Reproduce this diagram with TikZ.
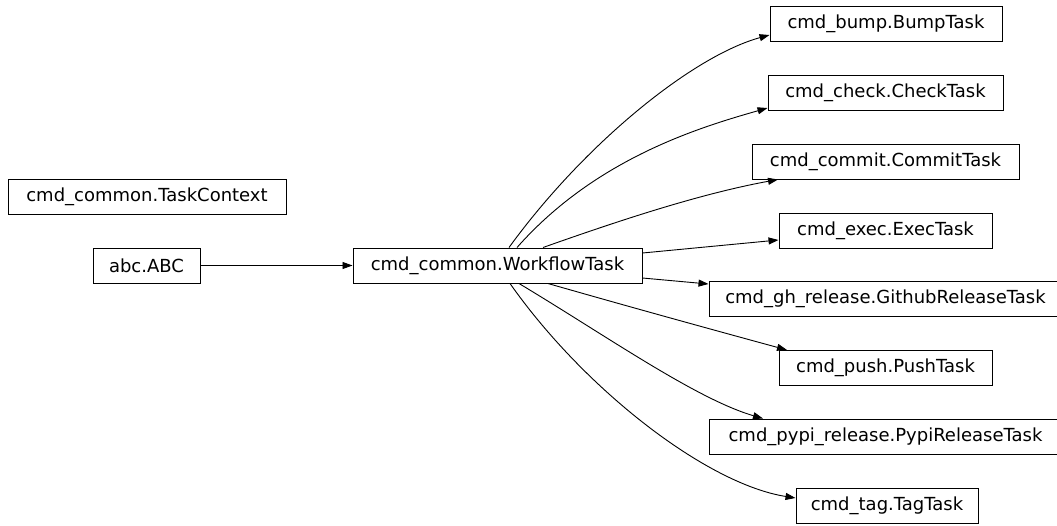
\documentclass[tikz,border=0pt]{standalone}
\usepackage{fontspec}
\setmainfont{DejaVu Sans}
\usetikzlibrary{arrows.meta}
\begin{document}
\begin{tikzpicture}[x=1pt,y=-1pt,
  box/.style={draw=black,line width=1pt,inner sep=0pt,minimum height=35pt,
    font=\fontsize{18}{21}\selectfont,text=black},
  edge/.style={draw=black,line width=0.9pt,-{Triangle[length=10pt,width=7pt]}}]
\useasboundingbox (0,0) rectangle (1057,525);
\node[box,minimum width=278pt] (ctx) at (147,196.5) {cmd\_common.TaskContext};
\node[box,minimum width=107pt] (abc) at (146.5,265.5) {abc.ABC};
\node[box,minimum width=289pt] (wf) at (497.5,265.5) {cmd\_common.WorkflowTask};
\node[box,minimum width=232pt] (bump) at (886,24) {cmd\_bump.BumpTask};
\node[box,minimum width=235pt] (check) at (885.5,92.5) {cmd\_check.CheckTask};
\node[box,minimum width=267pt] (commit) at (885.5,161.5) {cmd\_commit.CommitTask};
\node[box,minimum width=213pt] (exec) at (885.5,230.5) {cmd\_exec.ExecTask};
\node[box,minimum width=353pt] (gh) at (885.5,299) {cmd\_gh\_release.GithubReleaseTask};
\node[box,minimum width=213pt] (push) at (885.5,368) {cmd\_push.PushTask};
\node[box,minimum width=353pt] (pypi) at (885.5,436.5) {cmd\_pypi\_release.PypiReleaseTask};
\node[box,minimum width=182pt] (tag) at (887,505.5) {cmd\_tag.TagTask};
\draw[edge] (abc.east) -- (wf.west);
\draw[edge] ([xshift=11.5pt]wf.north) .. controls (585,143) and (693,56) .. ([yshift=-11pt]bump.west);
\draw[edge] ([xshift=19.5pt]wf.north) .. controls (596,158) and (701,127) .. ([yshift=-15.5pt]check.west);
\draw[edge] ([xshift=45.5pt]wf.north) .. controls (618,221) and (699,194) .. ([xshift=-107.5pt]commit.south);
\draw[edge] ([yshift=12.5pt]wf.east) -- ([yshift=-9.5pt]exec.west);
\draw[edge] ([yshift=-12.5pt]wf.east) -- ([yshift=15pt]gh.west);
\draw[edge] ([xshift=50.5pt]wf.south) .. controls (630,307) and (710,329) .. ([xshift=-98.5pt]push.north);
\draw[edge] ([xshift=21.5pt]wf.south) .. controls (605,335) and (696,399) .. ([xshift=-122.5pt]pypi.north);
\draw[edge] ([xshift=12.5pt]wf.south) .. controls (585,390) and (707,484) .. ([yshift=7.5pt]tag.west);
\end{tikzpicture}
\end{document}
